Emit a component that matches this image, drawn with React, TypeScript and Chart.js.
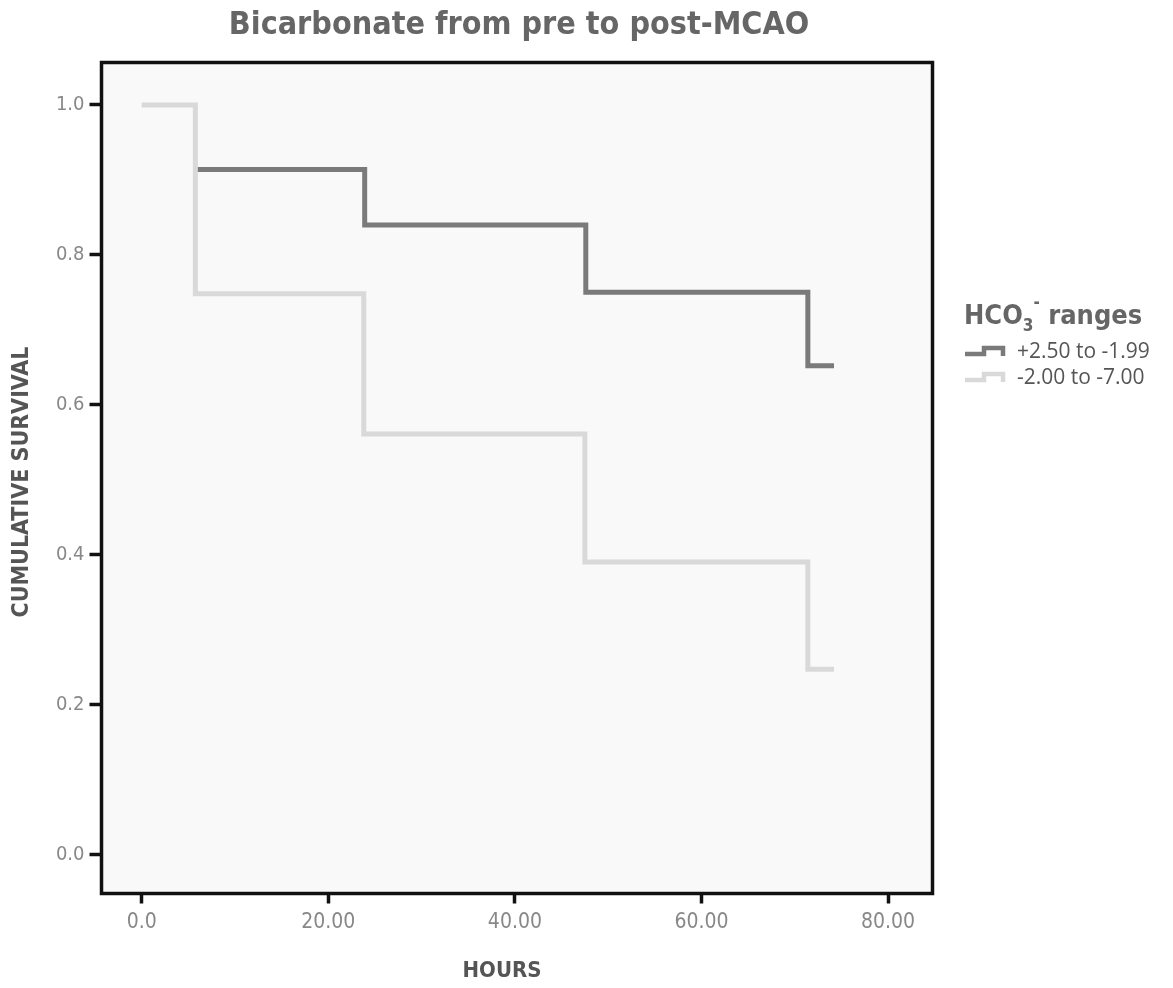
import React, { useEffect, useRef } from "react";
import { Chart, registerables } from "chart.js";

Chart.register(...registerables);

const chartTitle = "Bicarbonate from pre to post-MCAO";
const xAxisTitle = "HOURS";
const yAxisTitle = "CUMULATIVE SURVIVAL";
const legendTitle = { base: "HCO", sub: "3", sup: "-", rest: " ranges" };
const seriesNames = ["+2.50 to -1.99", "-2.00 to -7.00"];

// Dark series: its 1.0 segment is hidden under the light one in the reference
const hoursHigh = [5.75, 23.9, 47.6, 71.4, 74.2];
const survivalHigh = [0.914, 0.84, 0.75, 0.652, 0.652];
const hoursLow = [0, 5.75, 23.8, 47.5, 71.4, 74.2];
const survivalLow = [1.0, 0.748, 0.561, 0.39, 0.247, 0.247];

const xTicks = [0, 20, 40, 60, 80];
const xTickLabels = ["0.0", "20.00", "40.00", "60.00", "80.00"];
const yTicks = [0, 0.2, 0.4, 0.6, 0.8, 1.0];
const yTickLabels = ["0.0", "0.2", "0.4", "0.6", "0.8", "1.0"];

const DARK = "#7a7a7a";
const LIGHT = "#d9d9d9";
const NARROW = "'DejaVu Sans Condensed', 'Liberation Sans Narrow', sans-serif";

const decorPlugin = {
  id: "decor",
  beforeDraw(chart: any) {
    const { ctx, chartArea: a } = chart;
    ctx.save();
    ctx.fillStyle = "#f9f9f9";
    ctx.fillRect(a.left, a.top, a.right - a.left, a.bottom - a.top);
    ctx.restore();
  },
  afterDraw(chart: any) {
    const { ctx, chartArea: a } = chart;
    ctx.save();
    // frame
    ctx.strokeStyle = "#111";
    ctx.lineWidth = 3.5;
    ctx.strokeRect(a.left, a.top, a.right - a.left, a.bottom - a.top);

    // chart title
    ctx.fillStyle = "#666";
    ctx.textAlign = "center";
    ctx.textBaseline = "middle";
    ctx.font = `bold 32px ${NARROW}`;
    ctx.fillText(chartTitle, 519, 26);

    // axis titles
    ctx.font = `bold 22px ${NARROW}`;
    ctx.fillStyle = "#555";
    ctx.fillText(xAxisTitle, 502, 971);
    ctx.save();
    ctx.translate(22, 482);
    ctx.rotate(-Math.PI / 2);
    ctx.font = `bold 23px ${NARROW}`;
    ctx.fillText(yAxisTitle, 0, 0);
    ctx.restore();

    // legend title
    ctx.textAlign = "left";
    ctx.textBaseline = "alphabetic";
    ctx.fillStyle = "#666";
    let x = 964;
    const by = 324;
    ctx.font = `bold 27px ${NARROW}`;
    ctx.fillText(legendTitle.base, x, by);
    x += ctx.measureText(legendTitle.base).width;
    ctx.font = `bold 17px ${NARROW}`;
    ctx.fillText(legendTitle.sub, x, by + 7);
    const subW = ctx.measureText(legendTitle.sub).width;
    ctx.fillText(legendTitle.sup, x + subW, by - 16);
    x += subW + ctx.measureText(legendTitle.sup).width;
    ctx.font = `bold 27px ${NARROW}`;
    ctx.fillText(legendTitle.rest, x, by);

    // legend entries
    const colors = [DARK, LIGHT];
    seriesNames.forEach((name, i) => {
      const y = 351 + i * 26;
      ctx.strokeStyle = colors[i];
      ctx.lineWidth = 4.5;
      ctx.lineJoin = "miter";
      ctx.beginPath();
      ctx.moveTo(965, y + 3);
      ctx.lineTo(984, y + 3);
      ctx.lineTo(984, y - 3);
      ctx.lineTo(1003, y - 3);
      ctx.lineTo(1003, y + 5);
      ctx.stroke();
      ctx.fillStyle = "#555";
      ctx.font = `21px 'Open Sans', 'DejaVu Sans', sans-serif`;
      ctx.textBaseline = "middle";
      ctx.fillText(name, 1017, y + 1);
    });
    ctx.restore();
  },
};

export default function App() {
  const canvasRef = useRef<HTMLCanvasElement | null>(null);

  useEffect(() => {
    document.body.style.margin = "0";
    const canvas = canvasRef.current;
    if (!canvas) return;
    const chart = new Chart(canvas, {
      type: "line",
      data: {
        datasets: [
          {
            label: seriesNames[1],
            data: hoursLow.map((h, i) => ({ x: h, y: survivalLow[i] })),
            borderColor: LIGHT,
            borderWidth: 5,
            stepped: true,
            pointRadius: 0,
            fill: false,
          },
          {
            label: seriesNames[0],
            data: hoursHigh.map((h, i) => ({ x: h, y: survivalHigh[i] })),
            borderColor: DARK,
            borderWidth: 5,
            stepped: true,
            pointRadius: 0,
            fill: false,
          },
        ],
      },
      options: {
        animation: false,
        responsive: false,
        layout: { padding: { left: 41.5, right: 240.5, top: 62.5, bottom: 44.5 } },
        plugins: {
          legend: { display: false },
          title: { display: false },
          tooltip: { enabled: false },
        },
        scales: {
          x: {
            type: "linear",
            min: -4.31,
            max: 84.76,
            afterFit: (s: any) => {
              s.height = 50;
            },
            afterBuildTicks: (s: any) => {
              s.ticks = xTicks.map((v) => ({ value: v }));
            },
            ticks: {
              callback: (_v: any, i: number) => xTickLabels[i],
              color: "#888",
              font: { family: NARROW, size: 21 },
              padding: 6,
              maxRotation: 0,
            },
            grid: {
              drawOnChartArea: false,
              drawTicks: true,
              tickLength: 10,
              tickWidth: 3.5,
              tickColor: "#111",
            },
            border: { display: false },
          },
          y: {
            type: "linear",
            min: -0.0523,
            max: 1.0567,
            afterFit: (s: any) => {
              s.width = 60;
            },
            afterBuildTicks: (s: any) => {
              s.ticks = yTicks.map((v) => ({ value: v }));
            },
            ticks: {
              callback: (_v: any, i: number) => yTickLabels[i],
              color: "#888",
              font: { family: NARROW, size: 20 },
              padding: 5,
            },
            grid: {
              drawOnChartArea: false,
              drawTicks: true,
              tickLength: 12,
              tickWidth: 3.5,
              tickColor: "#111",
            },
            border: { display: false },
          },
        },
      },
      plugins: [decorPlugin],
    });
    return () => chart.destroy();
  }, []);

  return (
    <div style={{ position: "absolute", left: 0, top: 0, width: 1173, height: 988, background: "#fff" }}>
      <canvas ref={canvasRef} width={1173} height={988} style={{ display: "block" }} />
    </div>
  );
}
